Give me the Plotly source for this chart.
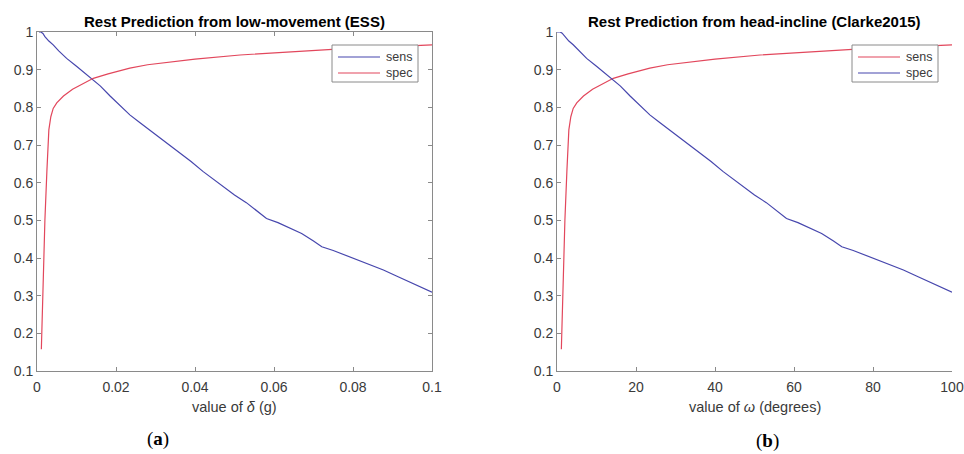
import plotly.graph_objects as go

# ---------------- data ----------------
# Panel (a): threshold delta in g
a_sens_x = [0.0005, 0.0010, 0.0015, 0.0020, 0.0030, 0.0041, 0.0055, 0.0075, 0.0100, 0.0125,
            0.01425, 0.0160, 0.0185, 0.0210, 0.0235, 0.0260, 0.0290, 0.0320, 0.0337, 0.0360,
            0.0390, 0.0420, 0.0440, 0.0470, 0.0500, 0.0530, 0.0560, 0.0581, 0.0610, 0.0640,
            0.0670, 0.0700, 0.0721, 0.0750, 0.0780, 0.0810, 0.0840, 0.0877, 0.0910, 0.0940,
            0.0970, 0.1000]
a_sens_y = [1.000, 1.000, 0.996, 0.988, 0.976, 0.966, 0.950, 0.930, 0.909, 0.888,
            0.873, 0.857, 0.830, 0.804, 0.780, 0.760, 0.736, 0.712, 0.700, 0.681,
            0.656, 0.630, 0.614, 0.592, 0.567, 0.547, 0.523, 0.505, 0.494, 0.480,
            0.465, 0.445, 0.430, 0.420, 0.408, 0.395, 0.382, 0.368, 0.352, 0.338,
            0.323, 0.309]
a_spec_x = [0.0011, 0.0015, 0.0020, 0.0025, 0.0030, 0.0035, 0.0041, 0.0050, 0.0067, 0.0090,
            0.0115, 0.01425, 0.0180, 0.0235, 0.0280, 0.0337, 0.0400, 0.0514, 0.0600, 0.0700,
            0.0800, 0.0900, 0.1000]
a_spec_y = [0.158, 0.330, 0.500, 0.630, 0.740, 0.775, 0.797, 0.812, 0.830, 0.848,
            0.862, 0.877, 0.889, 0.904, 0.913, 0.921, 0.928, 0.939, 0.945, 0.951,
            0.957, 0.961, 0.966]

# Panel (b): threshold omega in degrees
b_sens_x = [1.1, 1.5, 2.0, 2.5, 3.0, 3.5, 4.1, 5.0, 6.7, 9.0,
            11.5, 14.25, 18.0, 23.5, 28.0, 33.7, 40.0, 51.4, 60.0, 70.0,
            80.0, 90.0, 100.0]
b_sens_y = [0.158, 0.330, 0.500, 0.630, 0.740, 0.775, 0.797, 0.812, 0.830, 0.848,
            0.862, 0.877, 0.889, 0.904, 0.913, 0.921, 0.928, 0.939, 0.945, 0.951,
            0.957, 0.961, 0.966]
b_spec_x = [0.0, 0.8, 1.3, 2.0, 3.0, 4.1, 5.5, 7.5, 10.0, 12.5,
            14.25, 16.0, 18.5, 21.0, 23.5, 26.0, 29.0, 32.0, 33.7, 36.0,
            39.0, 42.0, 44.0, 47.0, 50.0, 53.0, 56.0, 58.1, 61.0, 64.0,
            67.0, 70.0, 72.1, 75.0, 78.0, 81.0, 84.0, 87.7, 91.0, 94.0,
            97.0, 100.0]
b_spec_y = [1.000, 1.000, 0.997, 0.988, 0.976, 0.966, 0.950, 0.930, 0.909, 0.888,
            0.873, 0.857, 0.830, 0.804, 0.780, 0.760, 0.736, 0.712, 0.700, 0.681,
            0.656, 0.630, 0.614, 0.592, 0.567, 0.547, 0.523, 0.505, 0.494, 0.480,
            0.465, 0.445, 0.430, 0.420, 0.408, 0.395, 0.382, 0.368, 0.352, 0.338,
            0.323, 0.309]

series_names = ["sens", "spec"]
y_ticks = [0.1, 0.2, 0.3, 0.4, 0.5, 0.6, 0.7, 0.8, 0.9, 1]
y_tick_text = ["0.1", "0.2", "0.3", "0.4", "0.5", "0.6", "0.7", "0.8", "0.9", "1"]
a_x_ticks = [0, 0.02, 0.04, 0.06, 0.08, 0.1]
a_x_tick_text = ["0", "0.02", "0.04", "0.06", "0.08", "0.1"]
b_x_ticks = [0, 20, 40, 60, 80, 100]
b_x_tick_text = ["0", "20", "40", "60", "80", "100"]

# ---------------- styling ----------------
W, H = 964, 454
BLUE = "#4646ad"
RED = "#e2475c"
AXC = "#8a8a8a"
TXT = "#3a3a3a"
FONT = "Liberation Sans, Arial, Helvetica, sans-serif"

def px(x):
    return x / W

def py(y):
    return 1 - y / H

fig = go.Figure()

fig.add_trace(go.Scatter(x=a_sens_x, y=a_sens_y, mode="lines", name=series_names[0],
                         line=dict(color=BLUE, width=1.2), xaxis="x", yaxis="y"))
fig.add_trace(go.Scatter(x=a_spec_x, y=a_spec_y, mode="lines", name=series_names[1],
                         line=dict(color=RED, width=1.2), xaxis="x", yaxis="y"))
fig.add_trace(go.Scatter(x=b_sens_x, y=b_sens_y, mode="lines", name=series_names[0],
                         line=dict(color=RED, width=1.2), xaxis="x2", yaxis="y2"))
fig.add_trace(go.Scatter(x=b_spec_x, y=b_spec_y, mode="lines", name=series_names[1],
                         line=dict(color=BLUE, width=1.2), xaxis="x2", yaxis="y2"))

ydom = [py(371), py(32)]
common_axis = dict(showgrid=False, zeroline=False, showline=True, linecolor=AXC, linewidth=1,
                   ticks="inside", ticklen=4, tickcolor=AXC, automargin=False,
                   tickfont=dict(family=FONT, size=14, color=TXT))

fig.update_layout(
    width=W, height=H,
    margin=dict(l=0, r=0, t=0, b=0),
    paper_bgcolor="white", plot_bgcolor="white",
    showlegend=False,
    xaxis=dict(domain=[px(37), px(432)], range=[0, 0.1], tickvals=a_x_ticks, ticktext=a_x_tick_text,
               anchor="y", mirror="ticks", ticklabelstandoff=3, **common_axis),
    yaxis=dict(domain=ydom, range=[0.1, 1], tickvals=y_ticks, ticktext=y_tick_text,
               anchor="x", mirror="ticks", **common_axis),
    xaxis2=dict(domain=[px(557), px(952)], range=[0, 100], tickvals=b_x_ticks, ticktext=b_x_tick_text,
                anchor="y2", ticklabelstandoff=3, **common_axis),
    yaxis2=dict(domain=ydom, range=[0.1, 1], tickvals=y_ticks, ticktext=y_tick_text,
                anchor="x2", **common_axis),
)

ann = []
shapes = []
ann.append(dict(text="<b>Rest Prediction from low-movement (ESS)</b>", x=px(234.5), y=py(21),
                font=dict(family=FONT, size=15, color="black")))
ann.append(dict(text="<b>Rest Prediction from head-incline (Clarke2015)</b>", x=px(754.5), y=py(21),
                font=dict(family=FONT, size=15, color="black")))
ann.append(dict(text="value of <i>δ</i> (g)", x=px(234.5), y=py(407),
                font=dict(family=FONT, size=14.5, color=TXT)))
ann.append(dict(text="value of <i>ω</i> (degrees)", x=px(754.5), y=py(407),
                font=dict(family=FONT, size=14.5, color=TXT)))
ann.append(dict(text="(<b>a</b>)", x=px(158), y=py(439),
                font=dict(family="Liberation Serif, DejaVu Serif, serif", size=19, color="black")))
ann.append(dict(text="(<b>b</b>)", x=px(767), y=py(441),
                font=dict(family="Liberation Serif, DejaVu Serif, serif", size=19, color="black")))
for a in ann:
    a.update(xanchor="center")

# legends (MATLAB-style boxes), one per panel
legend_boxes = [
    (332, 418, [BLUE, RED]),   # panel (a): sens blue, spec red
    (852, 938, [RED, BLUE]),   # panel (b): sens red, spec blue
]
row_y = [57, 73]
for x0, x1, colors in legend_boxes:
    shapes.append(dict(type="rect", xref="paper", yref="paper",
                       x0=px(x0), x1=px(x1), y0=py(82), y1=py(45),
                       line=dict(color=AXC, width=1), fillcolor="white", layer="above"))
    for name, col, ry in zip(series_names, colors, row_y):
        shapes.append(dict(type="line", xref="paper", yref="paper",
                           x0=px(x0 + 6), x1=px(x0 + 48), y0=py(ry), y1=py(ry),
                           line=dict(color=col, width=1.2), layer="above"))
        ann.append(dict(text=name, x=px(x0 + 52), y=py(ry), xanchor="left",
                        font=dict(family=FONT, size=12.5, color=TXT)))

for a in ann:
    a.update(xref="paper", yref="paper", yanchor="middle", showarrow=False)
fig.update_layout(annotations=ann, shapes=shapes)

fig.write_html("out.html", config={"displayModeBar": False},
               post_script="document.body.style.margin='0';document.body.style.overflow='hidden';")
